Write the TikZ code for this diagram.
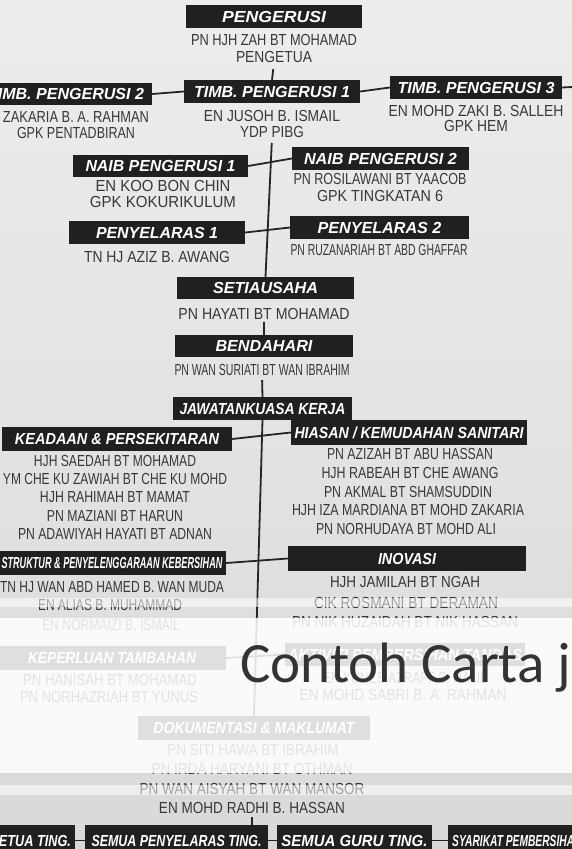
\documentclass[tikz,border=0pt]{standalone}
\usepackage{fontspec}
\usepackage{graphicx}
\newfontfamily\nfont{Liberation Sans}
\newfontfamily\cfont{Carlito}
\definecolor{boxcol}{HTML}{202020}
\definecolor{namecol}{HTML}{383838}
\definecolor{lncol}{HTML}{252525}
\definecolor{bgtop}{HTML}{ECEDED}
\definecolor{bgbot}{HTML}{D8D9D9}
\definecolor{ttlcol}{HTML}{333333}
\tikzset{
 tb/.style={fill=boxcol,text=white,inner sep=0pt,font=\nfont\bfseries\itshape\fontsize{16}{18}\selectfont,text height=11.6pt,text depth=0pt},
 nm/.style={inner sep=0pt,text=namecol,font=\nfont\fontsize{16}{18}\selectfont,text height=11.6pt,text depth=0pt},
 ln/.style={draw=lncol,line width=1.8pt},
}
\newcommand\TB[7]{\node[tb,minimum width={(#4)-(#2)},minimum height={(#5)-(#3)}] (#1) at ({((#2)+(#4))/2},{((#3)+(#5))/2}) {\resizebox{#7pt}{\height}{#6}};}
\newcommand\NM[5]{\node[nm] (#1) at (#2,#3) {\resizebox{#5pt}{\height}{#4}};}
\begin{document}
\begin{tikzpicture}[x=1pt,y=-1pt]
\useasboundingbox (0,0) rectangle (572,849);
\clip (0,0) rectangle (572,849);
\shade[top color=bgtop,bottom color=bgbot] (0,0) rectangle (572,849);
% top
\TB{pg}{186}{5}{362}{28}{PENGERUSI}{104}
\NM{pga}{274}{40}{PN HJH ZAH BT MOHAMAD}{166}
\NM{pgb}{274}{57}{PENGETUA}{76}
\TB{t1}{184}{80}{360}{103}{TIMB. PENGERUSI 1}{156}
\TB{t2}{-20}{83}{152}{105}{TIMB. PENGERUSI 2}{156}
\TB{t3}{390}{76}{562}{99}{TIMB. PENGERUSI 3}{157}
\coordinate (redge) at (572,87);
\NM{t2a}{76}{117}{ZAKARIA B. A. RAHMAN}{146}
\NM{t2b}{76}{133}{GPK PENTADBIRAN}{118}
\NM{t1a}{272}{116}{EN JUSOH B. ISMAIL}{136}
\NM{t1b}{272}{132}{YDP PIBG}{64}
\NM{t3a}{476}{111}{EN MOHD ZAKI B. SALLEH}{175}
\NM{t3b}{476}{126}{GPK HEM}{64}
\TB{n1}{73}{155}{248}{177}{NAIB PENGERUSI 1}{150}
\TB{n2}{292}{147}{469}{170}{NAIB PENGERUSI 2}{153}
\NM{n1a}{163}{186}{EN KOO BON CHIN}{135}
\NM{n1b}{163}{202}{GPK KOKURIKULUM}{146}
\NM{n2a}{380}{179}{PN ROSILAWANI BT YAACOB}{173}
\NM{n2b}{380}{196}{GPK TINGKATAN 6}{126}
\TB{p1}{69}{221}{245}{244}{PENYELARAS 1}{122}
\TB{p2}{290}{216}{469}{239}{PENYELARAS 2}{124}
\NM{p1a}{157}{257}{TN HJ AZIZ B. AWANG}{146}
\NM{p2a}{379}{250}{PN RUZANARIAH BT ABD GHAFFAR}{177}
\TB{st}{177}{277}{354}{299}{SETIAUSAHA}{105}
\NM{sta}{264}{314}{PN HAYATI BT MOHAMAD}{171}
\TB{bd}{175}{335}{353}{357}{BENDAHARI}{97}
\NM{bda}{262}{370}{PN WAN SURIATI BT WAN IBRAHIM}{175}
\TB{jk}{173}{397}{352}{420}{JAWATANKUASA KERJA}{166}
% committees
\TB{ke}{2}{427}{232}{451}{KEADAAN \& PERSEKITARAN}{204}
\NM{kea}{115}{461}{HJH SAEDAH BT MOHAMAD}{162}
\NM{keb}{115}{479}{YM CHE KU ZAWIAH BT CHE KU MOHD}{224}
\NM{kec}{115}{497}{HJH RAHIMAH BT MAMAT}{150}
\NM{ked}{115}{516}{PN MAZIANI BT HARUN}{136}
\NM{kee}{115}{534}{PN ADAWIYAH HAYATI BT ADNAN}{194}
\TB{hi}{291}{420}{527}{445}{HIASAN / KEMUDAHAN SANITARI}{229}
\NM{hia}{410}{454}{PN AZIZAH BT ABU HASSAN}{166}
\NM{hib}{410}{473}{HJH RABEAH BT CHE AWANG}{177}
\NM{hic}{408}{492}{PN AKMAL BT SHAMSUDDIN}{168}
\NM{hid}{408}{510}{HJH IZA MARDIANA BT MOHD ZAKARIA}{232}
\NM{hie}{406}{529}{PN NORHUDAYA BT MOHD ALI}{180}
\TB{sk}{-2}{551}{226}{575}{STRUKTUR \& PENYELENGGARAAN KEBERSIHAN}{221}
\NM{ska}{112}{587}{TN HJ WAN ABD HAMED B. WAN MUDA}{224}
\NM{skb}{110}{605}{EN ALIAS B. MUHAMMAD}{144}
\NM{skc}{111}{625}{EN NORMAIZI B. ISMAIL}{138}
\TB{in}{288}{546}{526}{571}{INOVASI}{58}
\NM{ina}{405}{582}{HJH JAMILAH BT NGAH}{150}
\NM{inb}{406}{603}{CIK ROSMANI BT DERAMAN}{184}
\NM{inc}{405}{622}{PN NIK HUZAIDAH BT NIK HASSAN}{226}
\TB{kp}{-2}{646}{226}{670}{KEPERLUAN TAMBAHAN}{168}
\NM{kpa}{110}{680}{PN HANISAH BT MOHAMAD}{174}
\NM{kpb}{109}{697}{PN NORHAZRIAH BT YUNUS}{178}
\TB{ak}{285}{643}{525}{666}{AKTIVITI PEMBERSIHAN TANDAS}{234}
\NM{aka}{405}{678}{EN YUNES AZRAFF B. HALIL}{164}
\NM{akb}{403}{695}{EN MOHD SABRI B. A. RAHMAN}{207}
\TB{dk}{138}{716}{370}{740}{DOKUMENTASI \& MAKLUMAT}{201}
\NM{dka}{253}{750}{PN SITI HAWA BT IBRAHIM}{171}
\NM{dkb}{252}{769}{PN IRDA HARYANI BT OTHMAN}{201}
\NM{dkc}{252}{789}{PN WAN AISYAH BT WAN MANSOR}{225}
\NM{dkd}{252}{808}{EN MOHD RADHI B. HASSAN}{186}
% bottom row
\TB{kt}{-5}{825}{75}{856}{ETUA TING.}{72}
\TB{sp}{85}{825}{268}{856}{SEMUA PENYELARAS TING.}{170}
\TB{sg}{277}{825}{432}{856}{SEMUA GURU TING.}{146}
\node[tb,inner xsep=4pt,minimum height=31pt,anchor=west] (sy) at (448,840.5) {\resizebox{122pt}{\height}{SYARIKAT PEMBERSIHA}};
% connectors
\draw[ln,shorten <=6pt] (pgb.south) -- (t1.north);
\draw[ln] (t2.east) -- (t1.west);
\draw[ln] (t1.east) -- (t3.west);
\draw[ln] (t3.east) -- (redge);
\draw[ln,shorten <=5pt] (t1b.south) -- (st.north);
\draw[ln] (n1.east) -- (n2.west);
\draw[ln] (p1.east) -- (p2.west);
\draw[ln,shorten <=2pt] (sta.south) -- (bd.north);
\draw[ln,shorten <=4pt] (bda.south) -- (jk.north);
\draw[ln] (jk.south) -- (dk.north);
\draw[ln] (ke.east) -- (hi.west);
\draw[ln] (sk.east) -- (in.west);
\draw[ln] (kp.east) -- (ak.west);
\draw[ln,shorten <=3pt] (dkd.south) -- (dkd.south |- sp.north);
\draw[ln] (kt.east) -- (sp.west);
\draw[ln] (sp.east) -- (sg.west);
\draw[ln] (sg.east) -- (sy.west);
% white overlay of the photo
\fill[white,opacity=0.55] (0,598) rectangle (572,607);
\fill[white,opacity=0.86] (0,618) rectangle (572,773);
\fill[white,opacity=0.55] (0,785) rectangle (572,795);
\node[anchor=base west,inner sep=0pt,font=\cfont\fontsize{57}{60}\selectfont,text=ttlcol] (ttl) at (240,682) {Contoh Carta j};
\end{tikzpicture}
\end{document}
